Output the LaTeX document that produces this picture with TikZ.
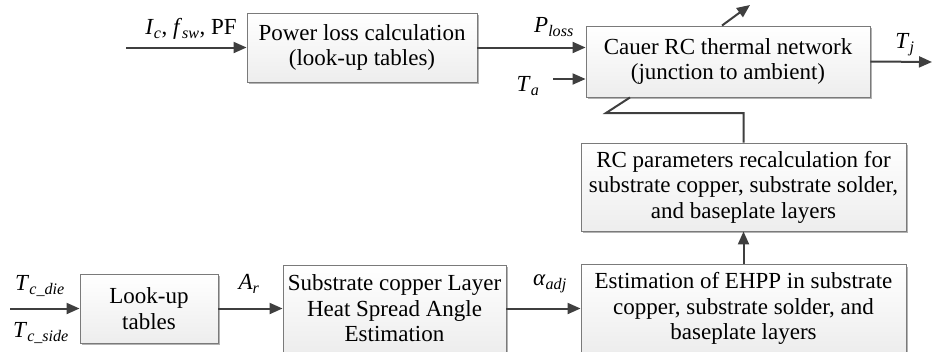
\documentclass[tikz,border=0pt]{standalone}
\usepackage{fontspec}
\setmainfont{Liberation Serif}
\usetikzlibrary{arrows.meta,shadows}
\definecolor{darkline}{HTML}{3F3F3F}
\definecolor{boxedge}{HTML}{7A7A7A}
\newcommand{\sym}[2]{\textit{#1}\textsubscript{\textit{#2}}}
\begin{document}
\begin{tikzpicture}[x=1pt,y=-1pt,
  blk/.style={draw=boxedge, line width=0.9pt, top color=white, bottom color=gray!14,
    drop shadow={shadow xshift=2.2pt, shadow yshift=-2.2pt, fill=gray!70, opacity=0.85},
    align=center, font=\fontsize{23}{25.5}\selectfont, inner sep=0pt},
  conn/.style={draw=darkline, line width=2pt},
  flow/.style={conn, -{Triangle[length=13pt,width=11pt]}},
  lbl/.style={font=\fontsize{23}{25}\selectfont, inner sep=0pt}
]
\clip (0,0) rectangle (932,351);

% blocks
\node[blk, minimum width=230pt, minimum height=69pt] (pw) at (362,47.5)
  {Power loss calculation\\(look-up tables)};
\node[blk, minimum width=284pt, minimum height=71pt] (cauer) at (728,61.5)
  {Cauer RC thermal network\\(junction to ambient)};
\node[blk, minimum width=325pt, minimum height=88pt] (rcp) at (743.5,187)
  {RC parameters recalculation for\\substrate copper, substrate solder,\\and baseplate layers};
\node[blk, minimum width=325pt, minimum height=88pt] (ehpp) at (743.5,308.5)
  {Estimation of EHPP in substrate\\copper, substrate solder, and\\baseplate layers};
\node[blk, minimum width=223pt, minimum height=87pt] (sub) at (394.5,308.5)
  {Substrate copper Layer\\Heat Spread Angle\\Estimation};
\node[blk, minimum width=138pt, minimum height=69pt] (lut) at (149,308.5)
  {Look-up\\tables};

% free ends of connectors
\coordinate (in1) at (126,47.5);
\coordinate (ta) at (553,79);
\coordinate (outup) at (750,5);
\coordinate (tj) at (932,62);
\coordinate (fbk) at (606,113);
\coordinate (tc) at (10,308.5);

% connectors
\draw[flow] (in1) -- (pw.west);
\draw[flow] (pw.east) -- (cauer.west |- pw.east);
\draw[flow] (ta) -- (cauer.west |- ta);
\draw[flow] ([xshift=-6pt]cauer.north) -- (outup);
\draw[flow] (cauer.east) -- (tj);
\draw[conn] ([xshift=-98pt]cauer.south) -- (fbk) -| (rcp.north);
\draw[flow] (ehpp.north) -- (rcp.south);
\draw[flow] (tc) -- (lut.west);
\draw[flow] (lut.east) -- (sub.west |- lut.east);
\draw[flow] (sub.east) -- (ehpp.west |- sub.east);

% signal labels
\node[lbl] (lin) at (191,29) {\sym{I}{c}, \sym{f}{sw}, PF};
\node[lbl] (lploss) at (554,27) {\sym{P}{loss}};
\node[lbl] (lta) at (528,86) {\sym{T}{a}};
\node[lbl] (ltj) at (905,45) {\sym{T}{j}};
\node[lbl] (ldie) at (40,286) {\sym{T}{c\_die}};
\node[lbl] (lside) at (41,333) {\sym{T}{c\_side}};
\node[lbl] (lar) at (249,284) {\sym{A}{r}};
\node[lbl] (lalpha) at (550,284) {\sym{α}{adj}};
\end{tikzpicture}
\end{document}
